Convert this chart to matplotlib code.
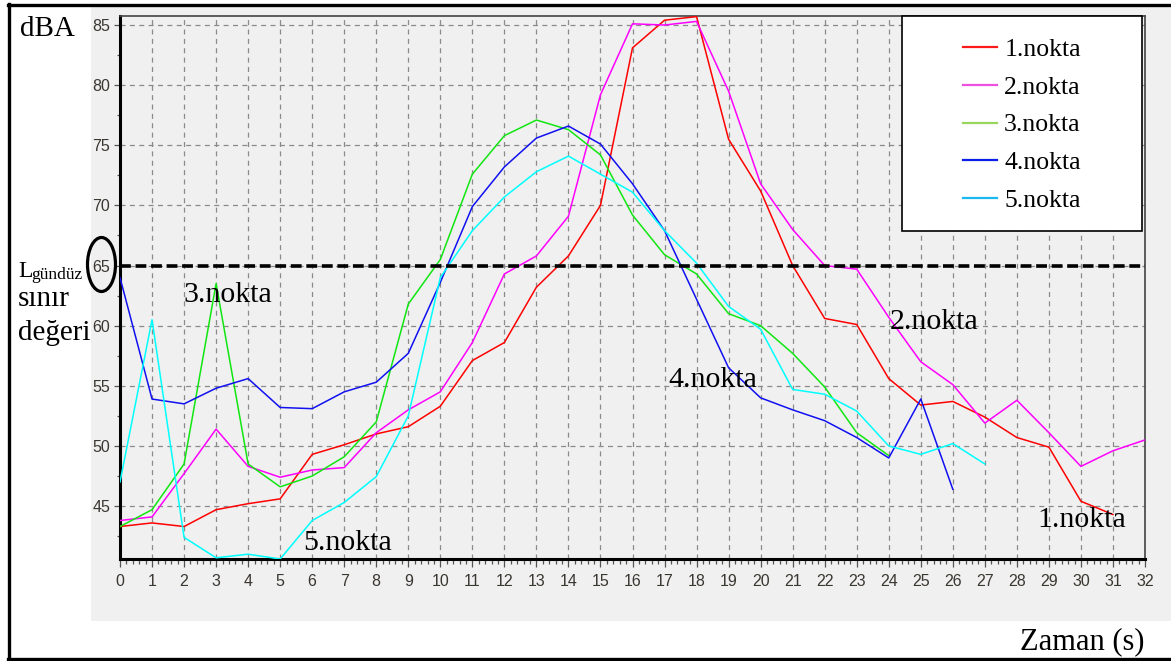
import matplotlib.pyplot as plt
from matplotlib.lines import Line2D
from matplotlib.patches import Rectangle, Ellipse
from matplotlib.ticker import MultipleLocator

# olcum verileri (dBA), zaman 0..32 s
nokta1 = [43.3, 43.6, 43.3, 44.7, 45.2, 45.6, 49.3, 50.1, 51.0, 51.6, 53.3,
          57.1, 58.6, 63.2, 65.8, 70.0, 83.1, 85.4, 85.7, 75.5, 71.2, 65.0,
          60.6, 60.1, 55.6, 53.4, 53.7, 52.4, 50.7, 49.9, 45.4, 44.3]
nokta2 = [43.8, 44.1, 47.7, 51.4, 48.3, 47.4, 48.0, 48.2, 51.1, 53.0, 54.5,
          58.6, 64.3, 65.8, 69.1, 79.2, 85.1, 85.0, 85.3, 79.5, 71.8, 68.0,
          65.0, 64.7, 60.7, 57.0, 55.1, 51.9, 53.8, 51.1, 48.3, 49.6, 50.5]
nokta3 = [43.3, 44.7, 48.5, 63.5, 48.5, 46.6, 47.5, 49.1, 52.0, 61.8, 65.5,
          72.6, 75.8, 77.1, 76.3, 74.2, 69.2, 65.9, 64.3, 61.0, 60.0, 57.7,
          54.9, 51.1, 49.2]
nokta4 = [64.0, 53.9, 53.5, 54.8, 55.6, 53.2, 53.1, 54.5, 55.3, 57.7, 63.6,
          69.9, 73.2, 75.6, 76.6, 75.1, 71.8, 67.9, 62.2, 56.5, 54.0, 53.0,
          52.1, 50.7, 49.0, 53.9, 46.4]
nokta5 = [47.0, 60.5, 42.4, 40.7, 41.0, 40.6, 43.8, 45.3, 47.45, 52.5, 64.0,
          67.9, 70.7, 72.8, 74.1, 72.6, 71.1, 67.9, 65.2, 61.6, 59.7, 54.7,
          54.3, 52.9, 50.0, 49.3, 50.2, 48.5]

seriler = [nokta1, nokta2, nokta3, nokta4, nokta5]
etiketler = ["1.nokta", "2.nokta", "3.nokta", "4.nokta", "5.nokta"]
renkler = ["#ff0000", "#ff00ff", "#11e611", "#1010f0", "#00ffff"]
lejant_renkleri = ["#ff1a1a", "#f050e0", "#99d65c", "#0a1ee6", "#1ab8f0"]
sinir_degeri = 65

W, H = 1171, 661


def fx(px):
    return px / W


def fy(py):
    return 1 - py / H


serif = "Liberation Serif"

fig = plt.figure(figsize=(W / 100, H / 100), dpi=100, facecolor="white")

# gri arka plan ve dis cerceve
fig.add_artist(Rectangle((fx(91), fy(621)), fx(W) - fx(91), fy(7) - fy(621),
                         transform=fig.transFigure, facecolor="#f0f0f0",
                         edgecolor="none", zorder=-2))
for xs, ys in [([8, W], [4.5, 4.5]), ([8.5, 8.5], [4, 659]), ([8, W], [658.5, 658.5])]:
    fig.add_artist(Line2D([fx(v) for v in xs], [fy(v) for v in ys],
                          transform=fig.transFigure, color="black", lw=2.4))

ax = fig.add_axes([fx(120), fy(559), fx(1145) - fx(120), fy(16) - fy(559)])
ax.set_facecolor("#f0f0f0")

for y, renk in zip(seriler, renkler):
    ax.plot(range(len(y)), y, color=renk, lw=1.1, zorder=4)

ax.axhline(sinir_degeri, color="black", lw=2.6, dashes=(3, 1.3), zorder=5)

ax.set_xlim(0, 32)
ax.set_ylim(40.6, 85.75)
ax.xaxis.set_major_locator(MultipleLocator(1))
ax.xaxis.set_minor_locator(MultipleLocator(0.2))
ax.yaxis.set_major_locator(MultipleLocator(5))
ax.yaxis.set_minor_locator(MultipleLocator(2.5))
ax.set_yticks(range(45, 90, 5))

ax.set_axisbelow(True)
ax.grid(True, which="major", color="#8a8a8a", linestyle=(0, (4, 3.5)), lw=0.9)

ax.tick_params(which="both", direction="out", color="#555555", width=0.9,
               labelsize=11.5, labelcolor="#3a3630")
ax.tick_params(axis="x", which="major", length=6, pad=5)
ax.tick_params(axis="x", which="minor", length=3.5)
ax.tick_params(axis="y", which="major", length=4, pad=3)
ax.tick_params(axis="y", which="minor", length=2)
for lab in ax.get_xticklabels() + ax.get_yticklabels():
    lab.set_fontfamily("Liberation Sans")

for s in ["left", "bottom"]:
    ax.spines[s].set_linewidth(2.2)
    ax.spines[s].set_color("black")
for s in ["top", "right"]:
    ax.spines[s].set_linewidth(1.2)
    ax.spines[s].set_color("#444444")

# lejant
ax.add_patch(Rectangle((fx(902), fy(231)), fx(1142) - fx(902), fy(16) - fy(231),
                       transform=fig.transFigure, facecolor="white",
                       edgecolor="black", lw=1.2, clip_on=False, zorder=6))
tutamaklar = [Line2D([], [], color=c, lw=1.6) for c in lejant_renkleri]
ax.legend(tutamaklar, etiketler, loc="center", frameon=False,
          bbox_to_anchor=(fx(1022), fy(125)), bbox_transform=fig.transFigure,
          prop={"family": serif, "size": 18.5}, handlelength=1.3,
          handletextpad=0.3, labelspacing=0.58).set_zorder(7)

# yazilar
fig.text(fx(20), fy(36), "dBA", family=serif, fontsize=21)
fig.text(fx(18), fy(277), "L", family=serif, fontsize=17)
fig.text(fx(31), fy(279), "gündüz", family=serif, fontsize=12.5)
fig.text(fx(18), fy(306), "sınır", family=serif, fontsize=21)
fig.text(fx(18), fy(340), "değeri", family=serif, fontsize=21)
fig.add_artist(Ellipse((fx(101.5), fy(264.5)), fx(28), 54 / H,
                       transform=fig.transFigure, fill=False,
                       edgecolor="black", lw=2.3, zorder=8))

for px, py, metin in [(183, 302, "3.nokta"), (303, 550, "5.nokta"),
                      (668, 387, "4.nokta"), (890, 329, "2.nokta"),
                      (1037, 527, "1.nokta")]:
    fig.text(fx(px), fy(py), metin, family=serif, fontsize=21.5, zorder=9)

fig.text(fx(1020), fy(649), "Zaman (s)", family=serif, fontsize=22)

fig.savefig("out.png", dpi=100)
